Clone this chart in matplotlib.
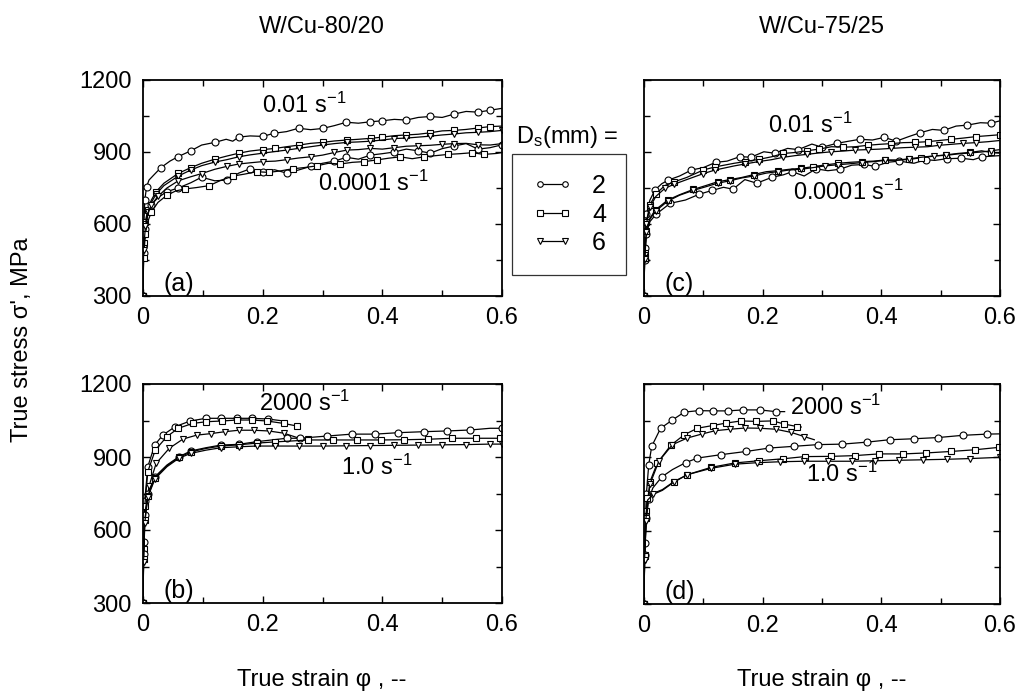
import matplotlib
matplotlib.use('Agg')
import matplotlib.pyplot as plt
from matplotlib.ticker import MultipleLocator

plt.rcParams['font.family'] = ['Liberation Sans', 'DejaVu Sans']
plt.rcParams['mathtext.fontset'] = 'custom'
plt.rcParams['mathtext.rm'] = 'Liberation Sans'
plt.rcParams['mathtext.it'] = 'Liberation Sans:italic'

# ---- data: true strain / true stress (MPa) ----
# (a) W/Cu-80/20, 0.01 s^-1 and 0.0001 s^-1
a_d2_fast_x = [0, 0.001, 0.003, 0.006, 0.01, 0.018, 0.03, 0.045, 0.059, 0.08, 0.098, 0.12, 0.139, 0.15, 0.16, 0.179, 0.2, 0.219, 0.24, 0.26, 0.28, 0.30, 0.32, 0.34, 0.36, 0.38, 0.40, 0.42, 0.44, 0.46, 0.48, 0.50, 0.52, 0.54, 0.56, 0.58, 0.60]
a_d2_fast_y = [300, 560, 700, 755, 783, 804, 835, 862, 881, 905, 929, 940, 953, 945, 962, 967, 965, 978, 985, 999, 993, 998, 1010, 1024, 1020, 1026, 1030, 1036, 1033, 1044, 1048, 1044, 1058, 1069, 1066, 1074, 1082]
a_d4_fast_x = [0, 0.001, 0.004, 0.008, 0.014, 0.022, 0.035, 0.059, 0.08, 0.098, 0.12, 0.14, 0.16, 0.179, 0.2, 0.221, 0.24, 0.261, 0.28, 0.30, 0.32, 0.341, 0.36, 0.381, 0.40, 0.42, 0.44, 0.46, 0.48, 0.50, 0.52, 0.54, 0.56, 0.58, 0.60]
a_d4_fast_y = [300, 520, 610, 660, 700, 735, 770, 811, 835, 853, 870, 883, 895, 904, 910, 915, 922, 929, 936, 940, 946, 950, 953, 957, 962, 968, 971, 974, 980, 988, 990, 994, 1000, 1006, 1008]
a_d6_fast_x = [0, 0.001, 0.004, 0.008, 0.014, 0.022, 0.035, 0.059, 0.08, 0.098, 0.12, 0.14, 0.16, 0.179, 0.2, 0.221, 0.24, 0.26, 0.28, 0.30, 0.32, 0.341, 0.36, 0.38, 0.40, 0.42, 0.44, 0.46, 0.48, 0.50, 0.52, 0.54, 0.56, 0.58, 0.60]
a_d6_fast_y = [300, 500, 600, 650, 690, 725, 760, 800, 825, 843, 858, 868, 880, 888, 895, 902, 908, 915, 922, 929, 935, 940, 942, 945, 950, 956, 958, 962, 966, 971, 975, 980, 982, 985, 990]
a_d2_slow_x = [0, 0.001, 0.004, 0.008, 0.014, 0.025, 0.04, 0.059, 0.08, 0.098, 0.12, 0.14, 0.16, 0.179, 0.2, 0.22, 0.24, 0.26, 0.28, 0.30, 0.32, 0.34, 0.36, 0.38, 0.40, 0.42, 0.44, 0.46, 0.48, 0.50, 0.52, 0.54, 0.56, 0.58, 0.60]
a_d2_slow_y = [300, 480, 580, 640, 680, 710, 735, 750, 772, 795, 780, 783, 812, 830, 818, 826, 812, 825, 840, 853, 862, 878, 870, 887, 893, 900, 912, 905, 895, 914, 925, 935, 912, 918, 930]
a_d4_slow_x = [0, 0.001, 0.004, 0.008, 0.014, 0.025, 0.04, 0.055, 0.07, 0.09, 0.111, 0.13, 0.151, 0.17, 0.19, 0.21, 0.229, 0.25, 0.269, 0.29, 0.31, 0.33, 0.35, 0.37, 0.391, 0.41, 0.43, 0.45, 0.47, 0.49, 0.51, 0.53, 0.55, 0.57, 0.591, 0.60]
a_d4_slow_y = [300, 460, 560, 610, 650, 690, 720, 738, 746, 752, 760, 782, 800, 808, 818, 815, 821, 830, 835, 842, 853, 850, 857, 860, 867, 874, 880, 872, 880, 885, 890, 893, 897, 890, 894, 898]
a_d6_slow_x = [0, 0.001, 0.004, 0.008, 0.014, 0.025, 0.04, 0.059, 0.08, 0.098, 0.12, 0.14, 0.16, 0.179, 0.2, 0.221, 0.24, 0.26, 0.28, 0.30, 0.32, 0.341, 0.36, 0.38, 0.40, 0.42, 0.44, 0.46, 0.48, 0.50, 0.52, 0.54, 0.56, 0.58, 0.60]
a_d6_slow_y = [300, 490, 590, 640, 680, 715, 750, 780, 797, 810, 828, 840, 850, 855, 860, 862, 868, 875, 880, 887, 898, 908, 910, 915, 912, 918, 924, 926, 928, 932, 935, 936, 930, 929, 935]

# (b) W/Cu-80/20, 2000 s^-1 and 1.0 s^-1
b_d2_fast_x = [0, 0.001, 0.003, 0.008, 0.0195, 0.033, 0.054, 0.079, 0.105, 0.13, 0.157, 0.182, 0.209, 0.235, 0.24]
b_d2_fast_y = [300, 550, 720, 860, 949, 990, 1025, 1048, 1059, 1059, 1059, 1059, 1056, 1048, 1046]
b_d4_fast_x = [0, 0.001, 0.003, 0.008, 0.0206, 0.040, 0.059, 0.083, 0.106, 0.132, 0.157, 0.182, 0.207, 0.235, 0.258]
b_d4_fast_y = [300, 520, 700, 840, 929, 984, 1018, 1038, 1045, 1048, 1052, 1052, 1048, 1038, 1027]
b_d6_fast_x = [0, 0.001, 0.003, 0.01, 0.022, 0.044, 0.067, 0.09, 0.113, 0.137, 0.16, 0.185, 0.21, 0.235, 0.26, 0.275]
b_d6_fast_y = [300, 500, 650, 780, 874, 936, 974, 990, 996, 1004, 1010, 1010, 1007, 998, 978, 972]
b_d2_slow_x = [0, 0.001, 0.003, 0.008, 0.02, 0.04, 0.06, 0.08, 0.105, 0.13, 0.16, 0.19, 0.215, 0.24, 0.262, 0.307, 0.349, 0.388, 0.427, 0.469, 0.508, 0.547, 0.58, 0.6]
b_d2_slow_y = [300, 500, 660, 750, 819, 867, 901, 925, 938, 949, 952, 963, 970, 977, 977, 986, 994, 994, 1000, 1004, 1007, 1011, 1018, 1018]
b_d4_slow_x = [0, 0.001, 0.003, 0.008, 0.02, 0.04, 0.06, 0.08, 0.105, 0.13, 0.16, 0.19, 0.22, 0.25, 0.276, 0.317, 0.357, 0.397, 0.437, 0.477, 0.517, 0.557, 0.597, 0.6]
b_d4_slow_y = [300, 480, 640, 740, 815, 864, 898, 921, 935, 945, 950, 957, 962, 966, 970, 970, 970, 970, 971, 973, 977, 977, 977, 977]
b_d6_slow_x = [0, 0.001, 0.003, 0.008, 0.02, 0.04, 0.06, 0.08, 0.105, 0.13, 0.16, 0.19, 0.22, 0.26, 0.3, 0.34, 0.38, 0.42, 0.46, 0.5, 0.54, 0.58, 0.6]
b_d6_slow_y = [300, 470, 630, 735, 810, 860, 895, 915, 928, 938, 942, 945, 945, 945, 945, 946, 947, 948, 949, 950, 951, 953, 953]

# (c) W/Cu-75/25, 0.01 s^-1 and 0.0001 s^-1
c_d2_fast_x = [0, 0.001, 0.004, 0.01, 0.0186, 0.03, 0.041, 0.06, 0.08, 0.1, 0.121, 0.14, 0.162, 0.18, 0.202, 0.22, 0.242, 0.26, 0.283, 0.3, 0.325, 0.345, 0.364, 0.385, 0.405, 0.425, 0.446, 0.465, 0.486, 0.505, 0.526, 0.545, 0.567, 0.585, 0.6]
c_d2_fast_y = [300, 500, 640, 700, 742, 768, 783, 800, 825, 835, 857, 862, 881, 878, 901, 895, 915, 910, 933, 920, 936, 945, 953, 950, 961, 945, 964, 980, 994, 990, 1008, 1012, 1022, 1020, 1030]
c_d4_fast_x = [0, 0.001, 0.004, 0.01, 0.02, 0.035, 0.05, 0.072, 0.1, 0.12, 0.152, 0.17, 0.193, 0.215, 0.235, 0.255, 0.274, 0.295, 0.316, 0.336, 0.356, 0.377, 0.397, 0.417, 0.437, 0.457, 0.478, 0.498, 0.518, 0.538, 0.559, 0.58, 0.6]
c_d4_fast_y = [300, 480, 610, 680, 725, 760, 775, 794, 825, 838, 853, 860, 869, 880, 894, 898, 905, 912, 922, 920, 922, 928, 932, 935, 939, 940, 943, 948, 953, 958, 964, 968, 972]
c_d6_fast_x = [0, 0.001, 0.004, 0.01, 0.02, 0.035, 0.05, 0.072, 0.1, 0.12, 0.152, 0.17, 0.193, 0.215, 0.235, 0.255, 0.274, 0.295, 0.316, 0.336, 0.356, 0.377, 0.397, 0.417, 0.437, 0.457, 0.478, 0.498, 0.518, 0.538, 0.559, 0.58, 0.6]
c_d6_fast_y = [300, 470, 600, 670, 715, 748, 765, 785, 810, 825, 842, 850, 860, 868, 878, 885, 890, 896, 901, 904, 908, 910, 912, 915, 918, 920, 922, 928, 932, 936, 939, 943, 948]
c_d2_slow_x = [0, 0.001, 0.004, 0.01, 0.02, 0.044, 0.07, 0.093, 0.115, 0.134, 0.15, 0.17, 0.19, 0.215, 0.235, 0.25, 0.27, 0.29, 0.31, 0.33, 0.35, 0.37, 0.39, 0.41, 0.43, 0.455, 0.475, 0.49, 0.51, 0.535, 0.555, 0.57, 0.6]
c_d2_slow_y = [300, 450, 560, 610, 640, 686, 700, 724, 740, 753, 745, 785, 770, 794, 805, 818, 800, 830, 822, 828, 845, 848, 840, 857, 862, 853, 868, 865, 872, 874, 868, 880, 885]
c_d4_slow_x = [0, 0.001, 0.004, 0.01, 0.02, 0.04, 0.06, 0.083, 0.104, 0.124, 0.145, 0.165, 0.185, 0.206, 0.225, 0.245, 0.265, 0.285, 0.305, 0.327, 0.347, 0.367, 0.387, 0.407, 0.427, 0.447, 0.467, 0.489, 0.509, 0.529, 0.549, 0.569, 0.585, 0.6]
c_d4_slow_y = [300, 460, 570, 625, 660, 700, 722, 744, 760, 776, 785, 794, 806, 818, 822, 828, 832, 839, 846, 853, 857, 860, 862, 867, 866, 869, 876, 883, 888, 894, 898, 905, 898, 895]
c_d6_slow_x = [0, 0.001, 0.004, 0.01, 0.02, 0.04, 0.06, 0.083, 0.104, 0.124, 0.145, 0.165, 0.185, 0.206, 0.225, 0.245, 0.265, 0.285, 0.305, 0.327, 0.347, 0.367, 0.387, 0.407, 0.427, 0.447, 0.467, 0.489, 0.509, 0.529, 0.549, 0.569, 0.585, 0.6]
c_d6_slow_y = [300, 455, 565, 620, 655, 695, 720, 740, 755, 770, 780, 792, 800, 812, 818, 825, 828, 835, 842, 847, 851, 856, 860, 865, 866, 872, 878, 884, 886, 892, 896, 900, 905, 910]

# (d) W/Cu-75/25, 2000 s^-1 and 1.0 s^-1
d_d2_fast_x = [0, 0.001, 0.004, 0.008, 0.013, 0.028, 0.048, 0.068, 0.092, 0.117, 0.141, 0.167, 0.195, 0.222, 0.237]
d_d2_fast_y = [300, 550, 750, 870, 945, 1019, 1053, 1085, 1091, 1090, 1090, 1094, 1094, 1087, 1087]
d_d4_fast_x = [0, 0.001, 0.004, 0.01, 0.0225, 0.0451, 0.0676, 0.09, 0.1155, 0.138, 0.1636, 0.1887, 0.2169, 0.2366, 0.258, 0.265]
d_d4_fast_y = [300, 500, 680, 800, 877, 949, 992, 1019, 1030, 1040, 1049, 1047, 1049, 1036, 1026, 1024]
d_d6_fast_x = [0, 0.001, 0.004, 0.01, 0.025, 0.048, 0.073, 0.097, 0.12, 0.145, 0.171, 0.195, 0.222, 0.248, 0.27, 0.287]
d_d6_fast_y = [300, 480, 660, 790, 884, 952, 979, 995, 1009, 1015, 1020, 1019, 1015, 1002, 985, 972]
d_d2_slow_x = [0, 0.001, 0.004, 0.008, 0.015, 0.03, 0.048, 0.07, 0.09, 0.13, 0.172, 0.211, 0.252, 0.293, 0.334, 0.375, 0.414, 0.455, 0.496, 0.537, 0.578, 0.6]
d_d2_slow_y = [300, 500, 650, 730, 775, 820, 850, 878, 897, 911, 924, 938, 945, 952, 954, 962, 972, 976, 981, 990, 995, 996]
d_d4_slow_x = [0, 0.001, 0.003, 0.0057, 0.015, 0.031, 0.05, 0.073, 0.113, 0.153, 0.193, 0.234, 0.271, 0.316, 0.355, 0.396, 0.437, 0.476, 0.517, 0.558, 0.599, 0.6]
d_d4_slow_y = [300, 497, 650, 734, 752, 768, 800, 829, 859, 877, 886, 894, 903, 904, 907, 914, 914, 918, 924, 931, 941, 941]
d_d6_slow_x = [0, 0.001, 0.003, 0.006, 0.015, 0.031, 0.05, 0.073, 0.113, 0.153, 0.19, 0.23, 0.27, 0.31, 0.35, 0.39, 0.43, 0.47, 0.51, 0.55, 0.6]
d_d6_slow_y = [300, 480, 640, 725, 748, 765, 798, 829, 855, 872, 878, 882, 884, 884, 884, 886, 888, 890, 892, 895, 900]

sizes = ['2', '4', '6']
markers = {'2': 'o', '4': 's', '6': 'v'}

panels = {
    'a': [('2', a_d2_fast_x, a_d2_fast_y, 'slow'), ('4', a_d4_fast_x, a_d4_fast_y, 'slow'),
          ('6', a_d6_fast_x, a_d6_fast_y, 'slow'), ('2', a_d2_slow_x, a_d2_slow_y, 'slow'),
          ('4', a_d4_slow_x, a_d4_slow_y, 'slow'), ('6', a_d6_slow_x, a_d6_slow_y, 'slow')],
    'b': [('2', b_d2_fast_x, b_d2_fast_y, 'fast'), ('4', b_d4_fast_x, b_d4_fast_y, 'fast'),
          ('6', b_d6_fast_x, b_d6_fast_y, 'fast'), ('2', b_d2_slow_x, b_d2_slow_y, 'slow'),
          ('4', b_d4_slow_x, b_d4_slow_y, 'slow'), ('6', b_d6_slow_x, b_d6_slow_y, 'slow')],
    'c': [('2', c_d2_fast_x, c_d2_fast_y, 'slow'), ('4', c_d4_fast_x, c_d4_fast_y, 'slow'),
          ('6', c_d6_fast_x, c_d6_fast_y, 'slow'), ('2', c_d2_slow_x, c_d2_slow_y, 'slow'),
          ('4', c_d4_slow_x, c_d4_slow_y, 'slow'), ('6', c_d6_slow_x, c_d6_slow_y, 'slow')],
    'd': [('2', d_d2_fast_x, d_d2_fast_y, 'fast'), ('4', d_d4_fast_x, d_d4_fast_y, 'fast'),
          ('6', d_d6_fast_x, d_d6_fast_y, 'fast'), ('2', d_d2_slow_x, d_d2_slow_y, 'slow'),
          ('4', d_d4_slow_x, d_d4_slow_y, 'slow'), ('6', d_d6_slow_x, d_d6_slow_y, 'slow')],
}

rate_labels = {
    'a': [(0.27, 1096, r'0.01 s$^{-1}$'), (0.385, 771, r'0.0001 s$^{-1}$')],
    'b': [(0.27, 1122, r'2000 s$^{-1}$'), (0.39, 859, r'1.0 s$^{-1}$')],
    'c': [(0.28, 1010, r'0.01 s$^{-1}$'), (0.344, 733, r'0.0001 s$^{-1}$')],
    'd': [(0.323, 1106, r'2000 s$^{-1}$'), (0.333, 829, r'1.0 s$^{-1}$')],
}

W, H = 1028, 700
fig = plt.figure(figsize=(W / 100, H / 100), dpi=100)

# axes boxes in pixels: left, top, right, bottom
boxes = {'a': (143, 80, 502, 296), 'c': (644, 80, 1000, 296),
         'b': (143, 384, 502, 603), 'd': (644, 384, 1000, 604)}

FS = 17
handles = {}
for key in ['a', 'b', 'c', 'd']:
    l, t, r, b = boxes[key]
    ax = fig.add_axes([l / W, 1 - b / H, (r - l) / W, (b - t) / H])
    for size, xs, ys, kind in panels[key]:
        me = 0.034 if kind == 'fast' else 0.052
        ln, = ax.plot(xs, ys, color='black', lw=0.9, marker=markers[size],
                      ms=5, mfc='white', mec='black', mew=0.8, markevery=me)
        if key == 'a' and size not in handles:
            handles[size] = ln
    ax.set_xlim(0, 0.6)
    ax.set_ylim(300, 1200)
    ax.xaxis.set_major_locator(MultipleLocator(0.2))
    ax.xaxis.set_minor_locator(MultipleLocator(0.1))
    ax.yaxis.set_major_locator(MultipleLocator(300))
    ax.yaxis.set_minor_locator(MultipleLocator(150))
    ax.set_xticks([0, 0.2, 0.4, 0.6])
    ax.set_xticklabels(['0', '0.2', '0.4', '0.6'])
    ax.tick_params(which='both', direction='in', top=True, right=True,
                   labelsize=FS, width=1)
    ax.tick_params(which='major', length=5, pad=8)
    ax.tick_params(which='minor', length=4)
    if key in ('c', 'd'):
        ax.tick_params(labelleft=False)
    for s in ax.spines.values():
        s.set_linewidth(1.3)
    for x, y, txt in rate_labels[key]:
        ax.text(x, y, txt, fontsize=FS, ha='center', va='center')
    ax.text(0.06, 350, '(%s)' % key, fontsize=FS + 1, ha='center', va='center')

fig.text(322 / W, 1 - 27 / H, 'W/Cu-80/20', fontsize=FS, ha='center', va='center')
fig.text(822 / W, 1 - 27 / H, 'W/Cu-75/25', fontsize=FS, ha='center', va='center')
fig.text(322 / W, 1 - 680 / H, 'True strain φ , --', fontsize=FS, ha='center', va='center')
fig.text(822 / W, 1 - 680 / H, 'True strain φ , --', fontsize=FS, ha='center', va='center')
fig.text(22 / W, 1 - 340 / H, "True stress σ', MPa", fontsize=FS, ha='center',
         va='center', rotation=90)

fig.text(567 / W, 1 - 137 / H, r'D$_\mathrm{s}$(mm) =', fontsize=FS, ha='center', va='center')
leg = fig.legend([handles[s] for s in sizes], sizes, loc='upper left',
                 bbox_to_anchor=(512 / W, 1 - 154 / H), fontsize=FS + 1, numpoints=2,
                 frameon=True, fancybox=False, edgecolor='black', handlelength=1.6,
                 handletextpad=0.8, borderpad=0.8, labelspacing=0.18, borderaxespad=0)
leg.get_frame().set_linewidth(0.9)
for h in leg.legend_handles:
    h.set_markevery(None)
    h.set_markersize(4)

fig.savefig('out.png', dpi=100)
